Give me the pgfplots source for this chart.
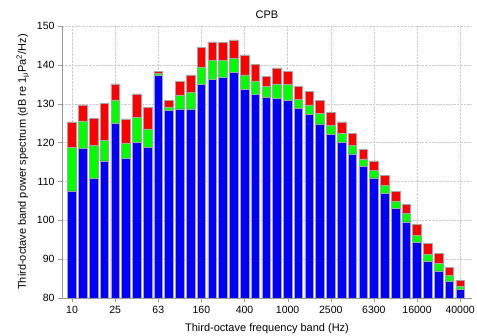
\documentclass[border=0pt]{standalone}
\usepackage{fontspec}
\setmainfont{Liberation Sans}
\usepackage{pgfplots}
\usepackage{pgfplotstable}
\pgfplotsset{compat=1.18}
\pgfplotstableread{
x b g r
0 107.6 11.2 6.5
1 118.5 7.1 4.1
2 110.8 8.4 7.1
3 115.3 5.3 9.5
4 125.0 6.0 4.1
5 116.0 3.9 6.2
6 120.1 6.3 6.1
7 118.8 4.7 5.5
8 137.3 0.6 0.4
9 128.3 0.9 1.7
10 128.7 3.6 3.5
11 128.7 4.3 4.4
12 135.0 4.5 5.0
13 136.2 4.9 4.8
14 136.7 4.4 4.6
15 138.0 3.6 4.8
16 133.6 3.8 5.2
17 132.4 3.5 4.3
18 131.6 2.9 2.6
19 131.3 3.8 4.1
20 130.9 4.1 3.4
21 128.8 2.4 3.2
22 127.2 2.5 3.5
23 124.8 2.8 3.3
24 122.2 2.2 3.3
25 120.0 2.4 2.9
26 117.1 2.1 3.1
27 113.9 1.9 2.5
28 110.9 2.0 2.4
29 107.0 2.0 2.5
30 103.1 1.9 2.4
31 99.6 2.2 2.3
32 94.3 1.9 2.8
33 89.5 1.8 2.7
34 87.0 2.0 2.4
35 84.2 1.7 1.9
36 82.2 0.8 1.6
}\data
\begin{document}
\begin{tikzpicture}
\begin{axis}[
  scale only axis,
  width=410pt, height=272pt,
  xmin=-0.93, xmax=37.1,
  ymin=80, ymax=150,
  ybar stacked,
  bar width=0.8,
  axis x line*=bottom, axis y line*=left,
  axis line style={draw=gray!80},
  tick style={draw=gray!80},
  tick align=outside,
  major tick length=4pt,
  xtick={0,4,...,36},
  xticklabels={10,25,63,160,400,1000,2500,6300,16000,40000},
  ytick={80,90,...,150},
  grid=major,
  major grid style={densely dotted, draw=gray!40},
  font=\fontsize{11}{13}\selectfont,
  tick label style={font=\fontsize{10.5}{12}\selectfont},
  xticklabel style={yshift=-1pt},
  /pgf/number format/assume math mode=true,
  title={CPB},
  title style={yshift=-2pt},
  xlabel={Third-octave frequency band (Hz)},
  ylabel={Third-octave band power spectrum (dB re 1\textsubscript{μ}Pa\textsuperscript{2}/Hz)},
  xlabel style={yshift=-3pt},
  ylabel style={yshift=1pt},
  every axis plot/.append style={draw=gray!70, line width=0.5pt},
]
\addplot[fill={rgb,255:red,0;green,0;blue,255}] table[x=x,y=b]{\data};
\addplot[fill={rgb,255:red,0;green,255;blue,0}] table[x=x,y=g]{\data};
\addplot[fill={rgb,255:red,255;green,0;blue,0}] table[x=x,y=r]{\data};
\end{axis}
\pgfresetboundingbox
\path[use as bounding box] ([xshift=-62pt,yshift=-38pt]current axis.south west) rectangle ([xshift=5pt,yshift=26pt]current axis.north east);
\end{tikzpicture}
\end{document}
